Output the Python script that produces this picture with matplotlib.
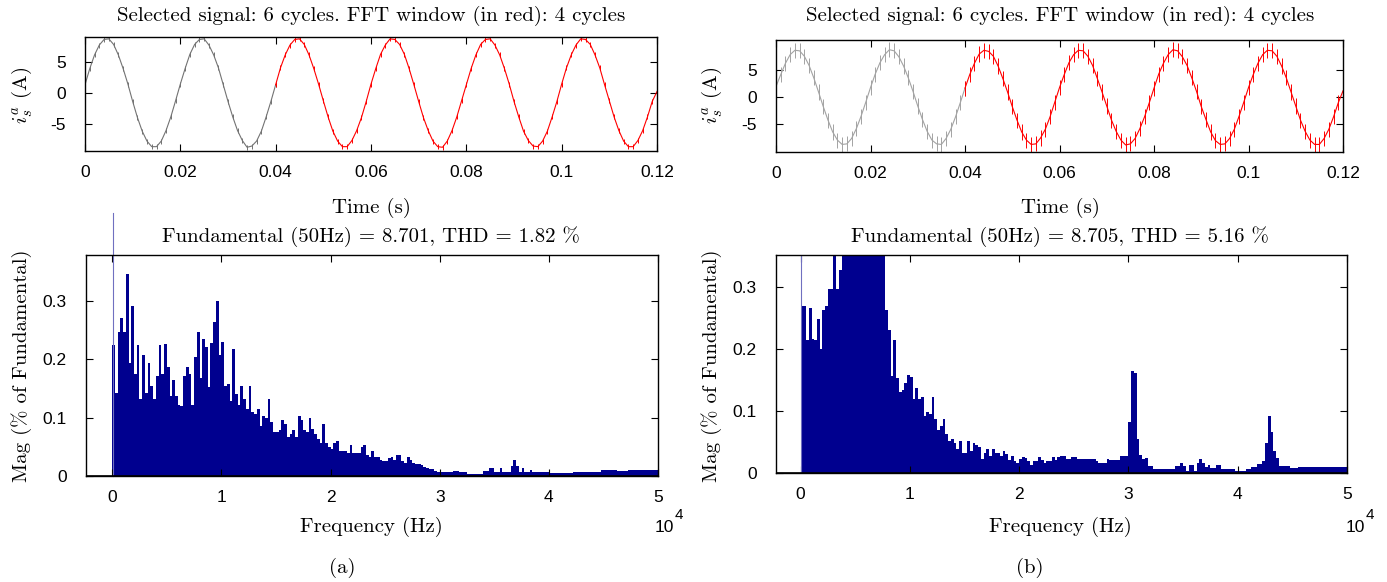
import numpy as np
import matplotlib.pyplot as plt

plt.rcParams['font.family'] = ['Liberation Sans', 'DejaVu Sans']
plt.rcParams['mathtext.fontset'] = 'cm'
plt.rcParams['axes.unicode_minus'] = False

dt = 0.001
sig_a = [1.3, 3.9, 6.1, 7.7, 8.6, 8.7, 7.8, 6.1, 3.9, 1.4, -1.4, -4.0, -6.2, -7.8, -8.7, -8.7, -7.8, -6.1, -3.9, -1.3,
         1.4, 3.9, 6.2, 7.8, 8.6, 8.7, 7.7, 6.1, 4.0, 1.3, -1.4, -3.9, -6.1, -7.7, -8.8, -8.6, -7.8, -6.2, -3.9, -1.4,
         1.3, 4.0, 6.1, 7.7, 8.6, 8.7, 7.8, 6.1, 3.9, 1.4, -1.3, -3.9, -6.2, -7.8, -8.7, -8.7, -7.7, -6.1, -4.0, -1.4,
         1.4, 3.9, 6.2, 7.7, 8.7, 8.6, 7.8, 6.2, 3.9, 1.3, -1.4, -4.0, -6.1, -7.8, -8.7, -8.8, -7.8, -6.1, -3.9, -1.3,
         1.3, 3.9, 6.1, 7.8, 8.6, 8.7, 7.7, 6.1, 3.9, 1.4, -1.4, -3.9, -6.2, -7.7, -8.6, -8.7, -7.8, -6.2, -3.9, -1.4,
         1.4, 4.0, 6.1, 7.7, 8.7, 8.6, 7.8, 6.1, 4.0, 1.3, -1.3, -3.9, -6.1, -7.8, -8.7, -8.7, -7.7, -6.1, -3.9, -1.4,
         0.2]
sig_b = [2.0, 4.2, 6.3, 7.9, 8.7, 8.6, 7.6, 5.9, 3.6, 1.0, -1.7, -4.2, -6.4, -7.9, -8.7, -8.6, -7.6, -5.8, -3.5, -0.9,
         1.8, 4.3, 6.4, 7.9, 8.8, 8.6, 7.5, 5.8, 3.6, 1.1, -1.6, -4.1, -6.3, -7.9, -8.6, -8.7, -7.6, -5.9, -3.6, -1.0,
         1.7, 4.2, 6.3, 8.0, 8.7, 8.5, 7.6, 5.8, 3.5, 1.0, -1.7, -4.2, -6.4, -7.9, -8.7, -8.6, -7.5, -5.9, -3.6, -0.9,
         1.8, 4.2, 6.4, 7.9, 8.7, 8.6, 7.6, 5.9, 3.5, 1.0, -1.6, -4.2, -6.3, -7.9, -8.8, -8.6, -7.6, -5.8, -3.6, -1.0,
         1.7, 4.3, 6.3, 7.9, 8.8, 8.6, 7.5, 5.9, 3.6, 1.1, -1.7, -4.1, -6.4, -8.0, -8.7, -8.6, -7.6, -5.9, -3.5, -0.9,
         1.8, 4.2, 6.3, 7.9, 8.7, 8.6, 7.6, 5.8, 3.6, 1.0, -1.6, -4.2, -6.3, -7.9, -8.7, -8.7, -7.6, -5.9, -3.6, -1.0,
         1.2]
ripple = [0.4, 1.4]          # switching ripple half-height (A)
fft_start = 0.04             # start of FFT window (s)

# spectra, one value per 250 Hz bin (% of fundamental)
df = 250
mag_a = [0.224, 0.142, 0.247, 0.271, 0.247, 0.345, 0.193, 0.29, 0.174, 0.224,
         0.131, 0.207, 0.142, 0.193, 0.154, 0.131, 0.171, 0.224, 0.174, 0.225,
         0.186, 0.136, 0.164, 0.136, 0.121, 0.12, 0.171, 0.186, 0.174, 0.121,
         0.204, 0.247, 0.167, 0.235, 0.22, 0.153, 0.228, 0.264, 0.299, 0.207,
         0.229, 0.154, 0.157, 0.128, 0.217, 0.141, 0.121, 0.154, 0.131, 0.114,
         0.154, 0.11, 0.106, 0.114, 0.085, 0.103, 0.1, 0.131, 0.092, 0.075,
         0.075, 0.079, 0.096, 0.089, 0.067, 0.071, 0.079, 0.067, 0.103, 0.096,
         0.079, 0.075, 0.1, 0.081, 0.072, 0.064, 0.057, 0.089, 0.057, 0.05,
         0.046, 0.057, 0.06, 0.043, 0.043, 0.043, 0.04, 0.053, 0.039, 0.04,
         0.039, 0.05, 0.053, 0.036, 0.033, 0.043, 0.033, 0.032, 0.028, 0.026,
         0.026, 0.03, 0.032, 0.027, 0.036, 0.036, 0.025, 0.023, 0.032, 0.028,
         0.022, 0.02, 0.02, 0.019, 0.016, 0.014, 0.012, 0.012, 0.008, 0.007,
         0.007, 0.007, 0.007, 0.007, 0.007, 0.0085, 0.0085, 0.007, 0.007, 0.007,
         0.0034, 0.0034, 0.0034, 0.0034, 0.0034, 0.0034, 0.009, 0.009, 0.013, 0.013,
         0.007, 0.007, 0.013, 0.007, 0.007, 0.007, 0.017, 0.028, 0.017, 0.007,
         0.013, 0.007, 0.007, 0.01, 0.006, 0.006, 0.006, 0.006, 0.006, 0.006,
         0.0046, 0.0046, 0.0046, 0.0046, 0.0046, 0.0046, 0.0046, 0.0046, 0.0046, 0.007,
         0.007, 0.007, 0.007, 0.007, 0.007, 0.007, 0.007, 0.007, 0.007, 0.0097,
         0.0097, 0.0097, 0.0097, 0.0097, 0.0097, 0.0085, 0.0085, 0.0085, 0.0085, 0.0097,
         0.0097, 0.0097, 0.0097, 0.0097, 0.0097, 0.0097, 0.0097, 0.0097, 0.0097, 0.0097]
mag_b = [0.27, 0.27, 0.214, 0.267, 0.217, 0.214, 0.248, 0.2, 0.264, 0.27,
         0.297, 0.297, 0.4, 0.297, 0.327, 0.4, 0.4, 0.4, 0.4, 0.4,
         0.4, 0.4, 0.4, 0.4, 0.4, 0.4, 0.4, 0.4, 0.4, 0.4,
         0.4, 0.264, 0.231, 0.156, 0.214, 0.153, 0.13, 0.134, 0.145, 0.158,
         0.155, 0.119, 0.138, 0.119, 0.122, 0.092, 0.098, 0.095, 0.122, 0.088,
         0.07, 0.076, 0.088, 0.063, 0.052, 0.055, 0.048, 0.039, 0.052, 0.032,
         0.032, 0.052, 0.036, 0.048, 0.046, 0.042, 0.023, 0.032, 0.039, 0.027,
         0.039, 0.032, 0.032, 0.028, 0.035, 0.03, 0.021, 0.028, 0.02, 0.016,
         0.023, 0.026, 0.024, 0.019, 0.013, 0.019, 0.019, 0.026, 0.021, 0.016,
         0.019, 0.019, 0.026, 0.021, 0.026, 0.028, 0.028, 0.023, 0.023, 0.026,
         0.026, 0.023, 0.023, 0.023, 0.023, 0.023, 0.023, 0.023, 0.02, 0.016,
         0.016, 0.016, 0.023, 0.021, 0.021, 0.021, 0.021, 0.028, 0.028, 0.028,
         0.083, 0.165, 0.162, 0.055, 0.029, 0.023, 0.025, 0.012, 0.011, 0.007,
         0.007, 0.007, 0.007, 0.007, 0.007, 0.007, 0.007, 0.011, 0.011, 0.016,
         0.011, 0.004, 0.013, 0.013, 0.004, 0.016, 0.023, 0.016, 0.01, 0.013,
         0.008, 0.008, 0.013, 0.013, 0.006, 0.006, 0.006, 0.006, 0.006, 0.004,
         0.004, 0.004, 0.004, 0.007, 0.007, 0.01, 0.01, 0.015, 0.015, 0.02,
         0.048, 0.092, 0.067, 0.036, 0.024, 0.012, 0.012, 0.012, 0.012, 0.008,
         0.008, 0.008, 0.0096, 0.0096, 0.0096, 0.0096, 0.0096, 0.0096, 0.0096, 0.0096,
         0.0096, 0.0096, 0.0096, 0.0096, 0.0096, 0.0096, 0.0096, 0.0096, 0.0096, 0.0096]
fund_freq = 50
fund_shown = [0.45, 1.0]     # how far the fundamental bar is drawn
titles_fft = ['Fundamental (50Hz) = 8.701, THD = 1.82 %', 'Fundamental (50Hz) = 8.705, THD = 5.16 %']
title_sig = 'Selected signal: 6 cycles. FFT window (in red): 4 cycles'
gray_cols = ['#737373', '#a3a3a3']
sig_ylim = [(-9.4, 9.0), (-10.1, 10.6)]
fft_ylim = [0.378, 0.352]
fft_xlim = [(-2400, 50000), (-2250, 50000)]
panel_tags = ['(a)', '(b)']

navy = '#00008f'
serif = 'cmr10'
fs = 15

W, H = 1387, 582
fig = plt.figure(figsize=(W / 100, H / 100), dpi=100)


def box(l, r, t, b):
    return [l / W, 1 - b / H, (r - l) / W, (b - t) / H]


def style(ax):
    ax.tick_params(direction='in', top=True, right=True, length=5, width=0.8, labelsize=12.5)
    ax.tick_params(axis='x', pad=10)
    ax.tick_params(axis='y', pad=14)
    for s in ax.spines.values():
        s.set_linewidth(1.0)


sig_boxes = [box(85, 657, 37, 151), box(776, 1343, 40, 152)]
fft_boxes = [box(86, 658, 255, 476), box(776, 1347, 255, 473)]
cx = [371, 1060]

for i, (sig, mag) in enumerate([(sig_a, mag_a), (sig_b, mag_b)]):
    t = np.arange(len(sig)) * dt
    v = np.array(sig)
    ax = fig.add_axes(sig_boxes[i])
    pre = t <= fft_start + 1e-9
    post = t >= fft_start - 1e-9
    for m, c in [(pre, gray_cols[i]), (post, 'red')]:
        ax.plot(t[m], v[m], color=c, lw=0.8)
        ax.vlines(t[m], v[m] - ripple[i], v[m] + ripple[i], color=c, lw=0.7)
    ax.set_xlim(0, 0.12)
    ax.set_ylim(*sig_ylim[i])
    ax.set_xticks([0, 0.02, 0.04, 0.06, 0.08, 0.1, 0.12])
    ax.set_xticklabels(['0', '0.02', '0.04', '0.06', '0.08', '0.1', '0.12'])
    ax.set_yticks([-5, 0, 5])
    style(ax)
    fig.text(cx[i] / W, 1 - 16 / H, title_sig, family=serif, fontsize=fs, ha='center', va='center')
    fig.text(cx[i] / W, 1 - 208 / H, 'Time (s)', family=serif, fontsize=fs, ha='center', va='center')
    fig.text((22 + 690 * i) / W, 1 - 95 / H, r'$i_s^a$ (A)', family=serif, fontsize=fs,
             rotation=90, ha='center', va='center')

    ax2 = fig.add_axes(fft_boxes[i])
    f = np.arange(len(mag)) * df
    ax2.bar(f, mag, width=df, align='edge', color=navy, edgecolor='none')
    ax2.plot([fund_freq, fund_freq], [0, fund_shown[i]], color='#7070c0', lw=0.8, clip_on=(i == 1))
    ax2.axhline(0, color='black', lw=1.2)
    ax2.set_xlim(*fft_xlim[i])
    ax2.set_ylim(0, fft_ylim[i])
    ax2.set_xticks([0, 10000, 20000, 30000, 40000, 50000])
    ax2.set_xticklabels(['0', '1', '2', '3', '4', '5'])
    ax2.set_yticks([0, 0.1, 0.2, 0.3])
    ax2.set_yticklabels(['0', '0.1', '0.2', '0.3'])
    style(ax2)
    fig.text(cx[i] / W, 1 - 237 / H, titles_fft[i], family=serif, fontsize=fs, ha='center', va='center')
    fig.text(cx[i] / W, 1 - 527 / H, 'Frequency (Hz)', family=serif, fontsize=fs, ha='center', va='center')
    fig.text((22 + 690 * i) / W, 1 - 366 / H, 'Mag (% of Fundamental)', family=serif, fontsize=fs,
             rotation=90, ha='center', va='center')
    xr = [664, 1355][i]
    fig.text(xr / W, 1 - 528 / H, '10', fontsize=12.5, ha='center', va='center')
    fig.text((xr + 15) / W, 1 - 515 / H, '4', fontsize=11, ha='center', va='center')
    fig.text([342, 1030][i] / W, 1 - 568 / H, panel_tags[i], family=serif, fontsize=fs,
             ha='center', va='center')

fig.savefig('out.png', dpi=100)
